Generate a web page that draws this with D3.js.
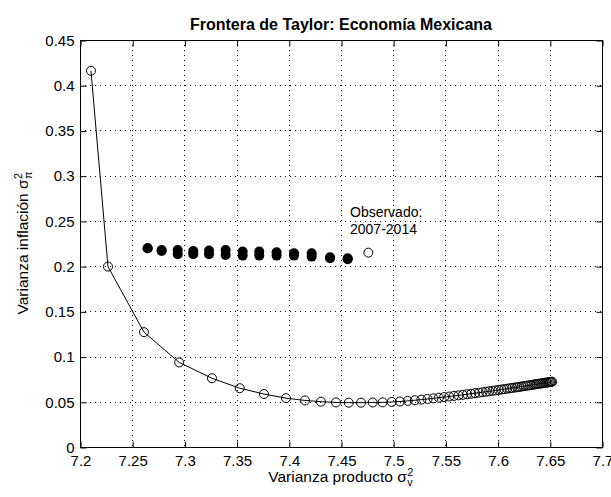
<!DOCTYPE html>
<html>
<head>
<meta charset="utf-8">
<script src="https://cdn.jsdelivr.net/npm/d3@7"></script>
<style>
  body { margin: 0; background: #fff; }
  svg text { fill: #000; }
</style>
</head>
<body>
<svg id="chart" width="611" height="497"></svg>
<script>
// Frontier points (open circles joined by a line)
const frontierX = [
  7.2105, 7.2268, 7.2613, 7.2950, 7.3264, 7.3530, 7.3762, 7.3973, 7.4155, 7.4308,
  7.4452, 7.4574, 7.4692, 7.4804, 7.4899, 7.4986, 7.5065, 7.5139, 7.5207, 7.5270,
  7.5329, 7.5385, 7.5438, 7.5488, 7.5536, 7.5582, 7.5626, 7.5668, 7.5708, 7.5747,
  7.5784, 7.5820, 7.5855, 7.5888, 7.5920, 7.5951, 7.5981, 7.6010, 7.6038, 7.6065,
  7.6091, 7.6116, 7.6140, 7.6164, 7.6187, 7.6209, 7.6230, 7.6251, 7.6271, 7.6290,
  7.6309, 7.6327, 7.6345, 7.6362, 7.6378, 7.6394, 7.6409, 7.6424, 7.6438, 7.6452,
  7.6465, 7.6478, 7.6490, 7.6502, 7.6513, 7.6522
];
const frontierY = [
  0.4160, 0.1995, 0.1270, 0.0935, 0.0760, 0.0650, 0.0586, 0.0540, 0.0515, 0.0501,
  0.0493, 0.0490, 0.0490, 0.0492, 0.0494, 0.0498, 0.0503, 0.0510, 0.0517, 0.0524,
  0.0531, 0.0538, 0.0545, 0.0552, 0.0558, 0.0565, 0.0571, 0.0577, 0.0583, 0.0589,
  0.0595, 0.0600, 0.0606, 0.0611, 0.0616, 0.0621, 0.0626, 0.0631, 0.0636, 0.0640,
  0.0645, 0.0649, 0.0653, 0.0657, 0.0661, 0.0665, 0.0669, 0.0673, 0.0676, 0.0680,
  0.0683, 0.0686, 0.0690, 0.0693, 0.0696, 0.0699, 0.0701, 0.0704, 0.0707, 0.0709,
  0.0712, 0.0714, 0.0716, 0.0718, 0.0720, 0.0722
];

// Filled markers: each position carries an upper and a lower value
const dotsX       = [7.2648, 7.2782, 7.2936, 7.3085, 7.3236, 7.3395, 7.3558, 7.3717, 7.3883, 7.4050, 7.4219, 7.4395, 7.4564];
const dotsYTop    = [0.2198, 0.2178, 0.2179, 0.2168, 0.2172, 0.2179, 0.2161, 0.2161, 0.2154, 0.2143, 0.2143, 0.2098, 0.2087];
const dotsYBottom = [0.2198, 0.2167, 0.2132, 0.2132, 0.2132, 0.2124, 0.2116, 0.2116, 0.2116, 0.2116, 0.2105, 0.2087, 0.2076];

// Observed 2007-2014
const observedX = [7.4762];
const observedY = [0.2149];
const observedLabel = ["Observado:", "2007-2014"];

// Axis ticks
const xTicks = [7.2, 7.25, 7.3, 7.35, 7.4, 7.45, 7.5, 7.55, 7.6, 7.65, 7.7];
const yTicks = [0, 0.05, 0.1, 0.15, 0.2, 0.25, 0.3, 0.35, 0.4, 0.45];
const xTickLabels = ["7.2", "7.25", "7.3", "7.35", "7.4", "7.45", "7.5", "7.55", "7.6", "7.65", "7.7"];
const yTickLabels = ["0", "0.05", "0.1", "0.15", "0.2", "0.25", "0.3", "0.35", "0.4", "0.45"];

const FONT = "'Liberation Sans',Arial,sans-serif";

const svg = d3.select("#chart");
svg.append("rect").attr("width", 611).attr("height", 497).attr("fill", "#fff");

const plotL = 80, plotR = 602, plotT = 40, plotB = 447;
const x = d3.scaleLinear().domain([7.2, 7.7]).range([plotL, plotR]);
const y = d3.scaleLinear().domain([0, 0.45]).range([plotB, plotT]);
const px = v => Math.round(x(v)) + 0.5;
const py = v => Math.round(y(v)) + 0.5;

// Dotted grid
const grid = svg.append("g").attr("stroke", "#000").attr("stroke-width", 1)
  .attr("stroke-dasharray", "1,4").attr("fill", "none");
xTicks.slice(1, -1).forEach(t => {
  grid.append("line").attr("x1", px(t)).attr("x2", px(t)).attr("y1", plotT).attr("y2", plotB);
});
yTicks.slice(1, -1).forEach(t => {
  grid.append("line").attr("x1", plotL).attr("x2", plotR).attr("y1", py(t)).attr("y2", py(t));
});

// Axes with inward ticks on all four sides
const tickLen = 6;
const axBottom = d3.axisBottom(x).tickValues(xTicks).tickSizeInner(-tickLen).tickSizeOuter(0)
  .tickPadding(8).tickFormat((d, i) => xTickLabels[i]);
const axTop = d3.axisTop(x).tickValues(xTicks).tickSizeInner(-tickLen).tickSizeOuter(0).tickFormat("");
const axLeft = d3.axisLeft(y).tickValues(yTicks).tickSizeInner(-tickLen).tickSizeOuter(0)
  .tickPadding(6).tickFormat((d, i) => yTickLabels[i]);
const axRight = d3.axisRight(y).tickValues(yTicks).tickSizeInner(-tickLen).tickSizeOuter(0).tickFormat("");

function styleAxis(g) {
  g.select(".domain").remove();
  g.selectAll(".tick line").attr("stroke", "#000");
  g.selectAll(".tick text").attr("font-family", FONT).attr("font-size", 15).attr("fill", "#000");
}
svg.append("g").attr("transform", `translate(0.5,${plotB + 0.5})`).call(axBottom).call(styleAxis);
svg.append("g").attr("transform", `translate(0.5,${plotT + 0.5})`).call(axTop).call(styleAxis);
svg.append("g").attr("transform", `translate(${plotL + 0.5},0.5)`).call(axLeft).call(styleAxis);
svg.append("g").attr("transform", `translate(${plotR + 0.5},0.5)`).call(axRight).call(styleAxis);

// Box
svg.append("rect").attr("x", plotL + 0.5).attr("y", plotT + 0.5)
  .attr("width", plotR - plotL).attr("height", plotB - plotT)
  .attr("fill", "none").attr("stroke", "#000").attr("stroke-width", 1);

// Frontier line and open markers
const frontier = frontierX.map((v, i) => [v, frontierY[i]]);
svg.append("path").datum(frontier)
  .attr("fill", "none").attr("stroke", "#000").attr("stroke-width", 1)
  .attr("d", d3.line().x(d => x(d[0])).y(d => y(d[1])));
svg.append("g").selectAll("circle").data(frontier).join("circle")
  .attr("cx", d => x(d[0])).attr("cy", d => y(d[1])).attr("r", 4.5)
  .attr("fill", "none").attr("stroke", "#000").attr("stroke-width", 1);

// Filled markers
const dots = [];
dotsX.forEach((v, i) => { dots.push([v, dotsYTop[i]]); dots.push([v, dotsYBottom[i]]); });
svg.append("g").selectAll("circle").data(dots).join("circle")
  .attr("cx", d => x(d[0])).attr("cy", d => y(d[1])).attr("r", 5)
  .attr("fill", "#000");

// Observed point and label
svg.append("circle").attr("cx", x(observedX[0])).attr("cy", y(observedY[0])).attr("r", 4.5)
  .attr("fill", "none").attr("stroke", "#000").attr("stroke-width", 1);
const obsText = svg.append("text").attr("font-family", FONT).attr("font-size", 14)
  .attr("x", 350).attr("y", 217);
observedLabel.forEach((s, i) => {
  obsText.append("tspan").attr("x", 350).attr("dy", i === 0 ? 0 : 17).text(s);
});

// Title
svg.append("text").attr("x", (plotL + plotR) / 2).attr("y", 30)
  .attr("text-anchor", "middle").attr("font-family", FONT).attr("font-weight", "bold")
  .attr("font-size", 16).text("Frontera de Taylor: Economía Mexicana");

// Label with stacked super/subscript after sigma
function sigmaLabel(parent, text, sub, size) {
  const g = parent.append("g");
  const main = g.append("text").attr("font-family", FONT).attr("font-size", size).text(text);
  const w = main.node().getComputedTextLength();
  g.append("text").attr("font-family", FONT).attr("font-size", size * 0.7)
    .attr("x", w + 0.5).attr("y", -size * 0.42).text("2");
  g.append("text").attr("font-family", FONT).attr("font-size", size * 0.7)
    .attr("x", w + 0.5).attr("y", size * 0.25).text(sub);
  const total = w + size * 0.45;
  g.selectAll("text").attr("dx", -total / 2);
  return g;
}
sigmaLabel(svg, "Varianza producto σ", "v", 15.5)
  .attr("transform", `translate(${(plotL + plotR) / 2},482)`);
sigmaLabel(svg, "Varianza inflación σ", "π", 15.5)
  .attr("transform", `translate(28,${(plotT + plotB) / 2}) rotate(-90)`);
</script>
</body>
</html>
